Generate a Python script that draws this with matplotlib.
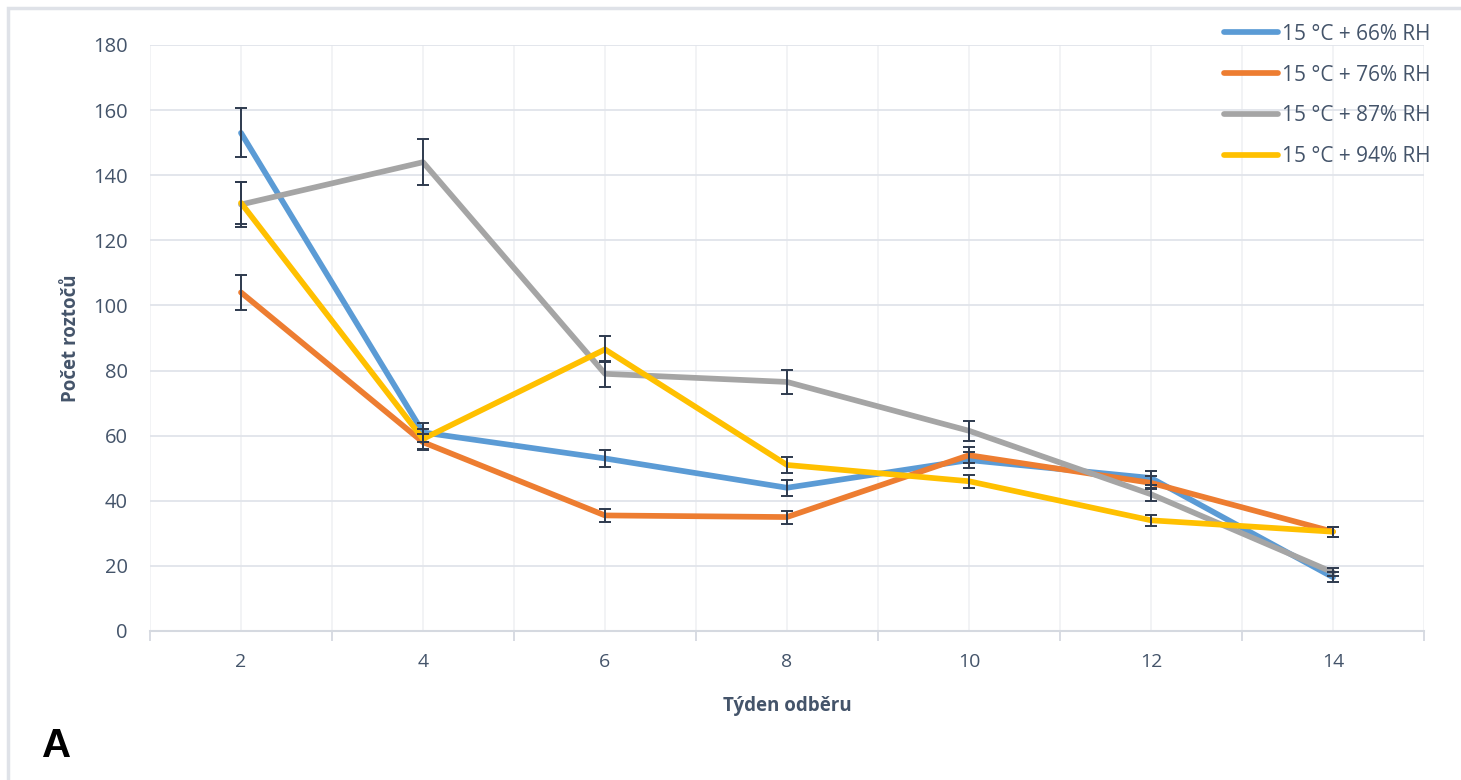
import numpy as np
import matplotlib
matplotlib.use('Agg')
import matplotlib.pyplot as plt
from matplotlib.patches import Rectangle

# data
weeks = [2, 4, 6, 8, 10, 12, 14]
series_names = ['15 °C + 66% RH', '15 °C + 76% RH', '15 °C + 87% RH', '15 °C + 94% RH']

rh66 = [153, 61, 53, 44, 52.5, 47, 16.5]
rh76 = [104, 58, 35.5, 35, 54, 45.5, 30.5]
rh87 = [131, 144, 79, 76.5, 61.5, 42, 18]
rh94 = [131.5, 59, 86.5, 51, 46, 34, 30.5]

err66 = [7.5, 3, 2.5, 2.5, 2.5, 2.2, 1.5]
err76 = [5.3, 2.5, 2, 2, 2.5, 2, 1.5]
err87 = [7, 7, 4, 3.8, 3, 2, 1.2]
err94 = [6.5, 3, 4, 2.5, 2, 1.7, 1.5]

colors = ['#5B9BD5', '#ED7D31', '#A5A5A5', '#FFC000']
text_col = '#44546A'

plt.rcParams['font.family'] = ['Open Sans', 'DejaVu Sans']

fig = plt.figure(figsize=(14.61, 7.80), dpi=100)
# outer chart border
fig.patches.append(Rectangle((8 / 1461, -0.1), 1.2, 1 - 8 / 780 + 0.1,
                             transform=fig.transFigure, fill=False,
                             edgecolor='#dfe2e8', linewidth=2.5))

ax = fig.add_axes([150 / 1461, 1 - 631 / 780, 1274 / 1461, 586 / 780])

x = np.arange(len(weeks))
values = [rh66, rh76, rh87, rh94]
errors = [err66, err76, err87, err94]

for i, (vals, errs) in enumerate(zip(values, errors)):
    ax.plot(x, vals, color=colors[i], linewidth=4.1, label=series_names[i],
            solid_capstyle='round', zorder=3 + i)
for vals, errs in zip(values, errors):
    ax.errorbar(x, vals, yerr=errs, fmt='none', ecolor='#2e3a4e',
                elinewidth=1.4, capsize=4.5, capthick=1.4, zorder=10)

ax.set_xlim(-0.5, len(weeks) - 0.5)
ax.set_ylim(0, 180)
ax.set_yticks(np.arange(0, 181, 20))
ax.set_xticks(x)
ax.set_xticklabels([str(w) for w in weeks])
ax.set_xticks(np.arange(-0.5, len(weeks), 1), minor=True)

# grid lines
for yv in np.arange(20, 181, 20):
    ax.axhline(yv, color='#e1e4ea', linewidth=1.3, zorder=1)
for xv in np.arange(-0.5, len(weeks), 0.5):
    ax.axvline(xv, color='#f1f2f5', linewidth=1.3, zorder=0.5)

for s in ['top', 'right', 'left']:
    ax.spines[s].set_visible(False)
ax.spines['bottom'].set_color('#d5d9e0')
ax.spines['bottom'].set_linewidth(1.5)

ax.tick_params(axis='y', length=0, labelsize=14.5, labelcolor=text_col, pad=16)
ax.tick_params(axis='x', which='major', length=0, labelsize=14,
               labelcolor=text_col, pad=16)
ax.tick_params(axis='x', which='minor', length=7, color='#d5d9e0', width=1.3)

ax.set_xlabel('Týden odběru', fontsize=13.5, fontweight='bold', color=text_col,
              labelpad=18)
ax.set_ylabel('Počet roztočů', fontsize=13.5, fontweight='bold', color=text_col,
              labelpad=9)

leg = ax.legend(loc='upper left', bbox_to_anchor=(1205 / 1461, 1 - 5 / 780),
                bbox_transform=fig.transFigure, frameon=False, fontsize=15,
                handlelength=2.6, handletextpad=0.2, labelspacing=0.95)
for t in leg.get_texts():
    t.set_color(text_col)
for ln in leg.get_lines():
    ln.set_linewidth(4.1)

fig.text(42 / 1461, 1 - 746 / 780, 'A', fontsize=29, fontweight='bold',
         family='Liberation Sans', va='center', ha='left', color='black')

fig.savefig('out.png', dpi=100)
